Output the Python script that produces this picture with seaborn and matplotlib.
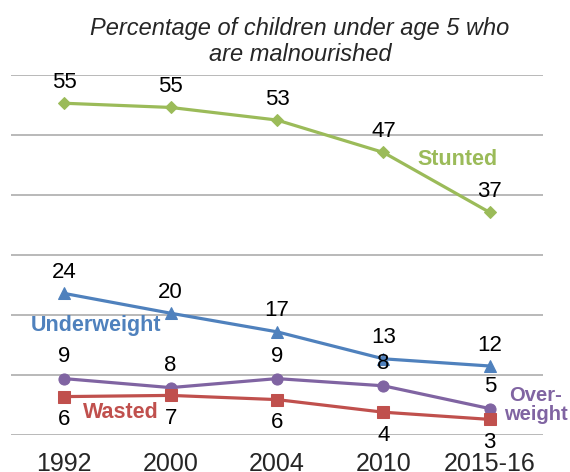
import matplotlib
matplotlib.use("Agg")
import matplotlib.pyplot as plt
import seaborn as sns
import pandas as pd

years = ["1992", "2000", "2004", "2010", "2015-16"]

stunted = [55.3, 54.6, 52.5, 47.1, 37.1]
underweight = [23.6, 20.3, 17.2, 12.7, 11.5]
overweight = [9.4, 7.9, 9.4, 8.2, 4.4]
wasted = [6.4, 6.6, 5.9, 3.8, 2.6]

stunted_lbl = ["55", "55", "53", "47", "37"]
underweight_lbl = ["24", "20", "17", "13", "12"]
overweight_lbl = ["9", "8", "9", "8", "5"]
wasted_lbl = ["6", "7", "6", "4", "3"]

sns.set_style("white")
plt.rcParams["font.family"] = ["Liberation Sans", "DejaVu Sans"]

fig = plt.figure(figsize=(5.7, 4.72), dpi=100)
ax = fig.add_axes([0.0193, 0.0784, 0.9333, 0.7626])

x = list(range(len(years)))

series = [
    # values, labels, colour, marker, size, label offset (px, + is up)
    (stunted, stunted_lbl, "#9BBB59", "D", 6, 21),
    (underweight, underweight_lbl, "#4F81BD", "^", 8, 21),
    (overweight, overweight_lbl, "#8064A2", "o", 8, 22),
    (wasted, wasted_lbl, "#C0504D", "s", 8, -23),
]

for vals, lbls, col, mk, ms, off in series:
    sns.lineplot(x=x, y=vals, ax=ax, color=col, marker=mk, markersize=ms,
                 markeredgecolor=col, linewidth=2.3, legend=False)
    for i, (v, t) in enumerate(zip(vals, lbls)):
        ax.annotate(t, (i, v), xytext=(0, off * 0.72), textcoords="offset points",
                    ha="center", va="center", fontsize=16, color="black")

ax.set_xlim(-0.5, len(years) - 0.5)
ax.set_ylim(0, 60)
ax.set_yticks(range(0, 61, 10))
ax.set_yticklabels([])
ax.yaxis.grid(True, color="#B3B3B3", linewidth=1.3)
ax.tick_params(axis="y", length=0)
ax.set_xticks(x)
ax.set_xticklabels(years, fontsize=18)
ax.tick_params(axis="x", length=0, pad=12)
for s in ax.spines.values():
    s.set_visible(False)

# series names placed next to their lines
ax.text(3.7, 46.0, "Stunted", color="#9BBB59", fontsize=15.5, fontweight="bold",
        ha="center", va="center")
ax.text(-0.31, 18.3, "Underweight", color="#4F81BD", fontsize=15.5, fontweight="bold",
        ha="left", va="center")
ax.text(0.53, 3.8, "Wasted", color="#C0504D", fontsize=15.5, fontweight="bold",
        ha="center", va="center")
ax.text(4.43, 5.0, "Over-\nweight", color="#8064A2", fontsize=14.5, fontweight="bold",
        ha="center", va="center", linespacing=1.0)

fig.text(0.526, 0.912, "Percentage of children under age 5 who\nare malnourished",
         ha="center", va="center", fontsize=17, style="italic", linespacing=1.15)

fig.savefig("out.png", dpi=100)
